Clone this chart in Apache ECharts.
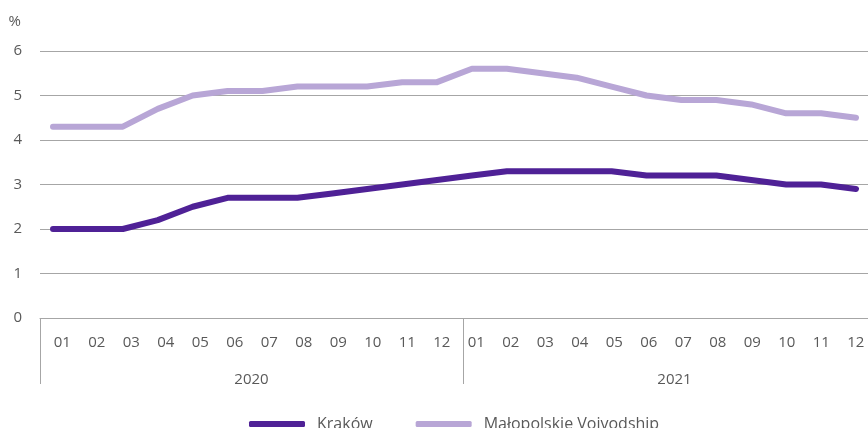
<!DOCTYPE html>
<html><head><meta charset="utf-8">
<script src="https://cdn.jsdelivr.net/npm/echarts@6/dist/echarts.min.js"></script>
<style>html,body{margin:0;padding:0;background:#fff}#c{width:868px;height:428px}</style>
</head><body><div id="c"></div>
<script>
var months = ['01','02','03','04','05','06','07','08','09','10','11','12','01','02','03','04','05','06','07','08','09','10','11','12'];
var years = ['2020','2021'];
var krakow = [2.0,2.0,2.0,2.2,2.5,2.7,2.7,2.7,2.8,2.9,3.0,3.1,3.2,3.3,3.3,3.3,3.3,3.2,3.2,3.2,3.1,3.0,3.0,2.9];
var malopolskie = [4.3,4.3,4.3,4.7,5.0,5.1,5.1,5.2,5.2,5.2,5.3,5.3,5.6,5.6,5.5,5.4,5.2,5.0,4.9,4.9,4.8,4.6,4.6,4.5];
var yTicks = [0,1,2,3,4,5,6];

var FONT = 'Open Sans';
var TXT = '#595959';
var chart = echarts.init(document.getElementById('c'));
chart.setOption({
  animation: false,
  textStyle: {fontFamily: FONT},
  grid: [
    {left: 40, right: 0, top: 51, bottom: 110},
    {left: 53, right: 12, top: 51, bottom: 110},
    {left: 40, right: -18, top: 51, bottom: 110, outerBoundsMode: 'none'}
  ],
  legend: {
    left: 244, top: 411,
    itemWidth: 56, itemHeight: 6, itemGap: 43,
    icon: 'roundRect',
    textStyle: {fontFamily: FONT, fontSize: 16, color: TXT, padding: [0,0,0,7]},
    data: ['Kraków', 'Małopolskie Voivodship']
  },
  xAxis: [
    {type: 'category', gridIndex: 0, data: months, boundaryGap: true,
     axisLine: {show: true, lineStyle: {color: '#a6a6a6', width: 1}},
     axisTick: {show: false},
     axisLabel: {interval: 0, fontSize: 15, color: TXT, margin: 17, fontFamily: FONT, padding: [0,0,0,10]}},
    {type: 'category', gridIndex: 2, data: years, boundaryGap: true, position: 'bottom',
     axisLine: {show: false},
     axisTick: {show: true, length: 66, lineStyle: {color: '#a6a6a6', width: 1}},
     axisLabel: {fontSize: 15, color: TXT, margin: 54, fontFamily: FONT}},
    {type: 'category', gridIndex: 1, data: months, boundaryGap: false, show: false}
  ],
  yAxis: [
    {type: 'value', gridIndex: 0, min: yTicks[0], max: yTicks[yTicks.length-1], interval: 1,
     name: '%', nameLocation: 'end', nameGap: 22,
     nameTextStyle: {fontSize: 15, color: TXT, align: 'right', padding: [0,19,0,0], fontFamily: FONT},
     axisLine: {show: false}, axisTick: {show: false},
     axisLabel: {fontSize: 15, color: TXT, margin: 18, fontFamily: FONT},
     splitLine: {show: true, lineStyle: {color: '#a6a6a6', width: 1}}},
    {type: 'value', gridIndex: 1, min: 0, max: 6, show: false},
    {type: 'value', gridIndex: 2, min: 0, max: 6, show: false}
  ],
  series: [
    {name: 'Kraków', type: 'line', xAxisIndex: 2, yAxisIndex: 1, data: krakow,
     symbol: 'none', lineStyle: {color: '#4f2196', width: 6, cap: 'round', join: 'round'},
     itemStyle: {color: '#4f2196'}},
    {name: 'Małopolskie Voivodship', type: 'line', xAxisIndex: 2, yAxisIndex: 1, data: malopolskie,
     symbol: 'none', lineStyle: {color: '#b8a6d6', width: 6, cap: 'round', join: 'round'},
     itemStyle: {color: '#b8a6d6'}}
  ]
});
</script></body></html>
